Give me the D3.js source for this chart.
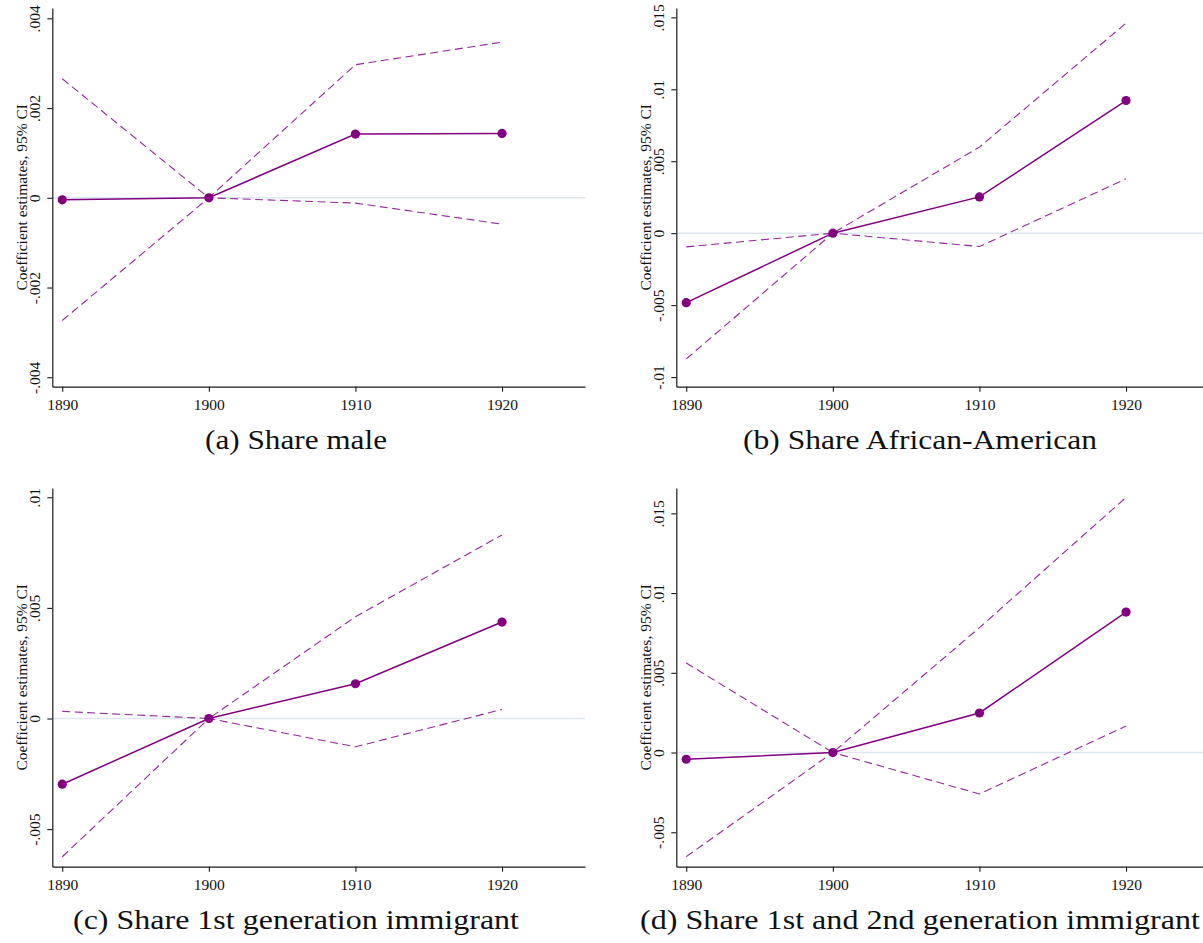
<!DOCTYPE html>
<html>
<head>
<meta charset="utf-8">
<script src="https://cdn.jsdelivr.net/npm/d3@7"></script>
<style>
  html, body { margin: 0; padding: 0; background: #ffffff; }
  svg { display: block; }
</style>
</head>
<body>
<svg id="chart" width="1203" height="943"></svg>
<script>
// ---------------- data ----------------
const years = [1890, 1900, 1910, 1920];
const xTickLabels = ["1890", "1900", "1910", "1920"];
const xDomain = [1889.32, 1925.66];
const yAxisTitle = "Coefficient estimates, 95% CI";
const captions = [
  "(a) Share male",
  "(b) Share African-American",
  "(c) Share 1st generation immigrant",
  "(d) Share 1st and 2nd generation immigrant"
];

// (a) Share male
const maleCoef  = [-0.000045, 0, 0.00142, 0.001434];
const maleUpper = [0.002653, 0, 0.002966, 0.00347];
const maleLower = [-0.002735, 0, -0.000118, -0.000587];
const maleYDomain = [-0.00421, 0.00423];
const maleYTicks = [-0.004, -0.002, 0, 0.002, 0.004];
const maleYLabels = ["-.004", "-.002", "0", ".002", ".004"];

// (b) Share African-American
const blackCoef  = [-0.00483, 0, 0.00252, 0.00922];
const blackUpper = [-0.00095, 0, 0.00598, 0.0146];
const blackLower = [-0.00874, 0, -0.00093, 0.00378];
const blackYDomain = [-0.01067, 0.01565];
const blackYTicks = [-0.01, -0.005, 0, 0.005, 0.01, 0.015];
const blackYLabels = ["-.01", "-.005", "0", ".005", ".01", ".015"];

// (c) Share 1st generation immigrant
const imm1Coef  = [-0.00297, 0, 0.00157, 0.00436];
const imm1Upper = [0.00032, 0, 0.0046, 0.0083];
const imm1Lower = [-0.00625, 0, -0.00128, 0.00041];
const imm1YDomain = [-0.0067, 0.01042];
const imm1YTicks = [-0.005, 0, 0.005, 0.01];
const imm1YLabels = ["-.005", "0", ".005", ".01"];

// (d) Share 1st and 2nd generation immigrant
const imm12Coef  = [-0.00042, 0, 0.00248, 0.00881];
const imm12Upper = [0.00561, 0, 0.00783, 0.0160];
const imm12Lower = [-0.00653, 0, -0.0026, 0.00166];
const imm12YDomain = [-0.00716, 0.01659];
const imm12YTicks = [-0.005, 0, 0.005, 0.01, 0.015];
const imm12YLabels = ["-.005", "0", ".005", ".01", ".015"];

// ---------------- layout / style ----------------
const panels = [
  { ox: 0,   oy: 0,   coef: maleCoef,  upper: maleUpper,  lower: maleLower,  yDomain: maleYDomain,  yTicks: maleYTicks,  yLabels: maleYLabels,  caption: captions[0], capX: 296, capW: 182 },
  { ox: 624, oy: 0,   coef: blackCoef, upper: blackUpper, lower: blackLower, yDomain: blackYDomain, yTicks: blackYTicks, yLabels: blackYLabels, caption: captions[1], capX: 920, capW: 354 },
  { ox: 0,   oy: 480, coef: imm1Coef,  upper: imm1Upper,  lower: imm1Lower,  yDomain: imm1YDomain,  yTicks: imm1YTicks,  yLabels: imm1YLabels,  caption: captions[2], capX: 296, capW: 446 },
  { ox: 624, oy: 480, coef: imm12Coef, upper: imm12Upper, lower: imm12Lower, yDomain: imm12YDomain, yTicks: imm12YTicks, yLabels: imm12YLabels, caption: captions[3], capX: 920, capW: 560 }
];

const PL = 52.3, PR = 585, PT = 8, PB = 386.7;
const mainColor = "#800080";
const ciColor = "#93279a";
const refColor = "#dfe8f1";
const axisColor = "#1a1a1a";
const tickFont = "'Liberation Serif', 'Times New Roman', serif";
const capFont = "'Liberation Serif', 'Times New Roman', serif";

const svg = d3.select("#chart");
svg.append("rect").attr("width", 1203).attr("height", 943).attr("fill", "#fff");

panels.forEach(p => {
  const g = svg.append("g");
  const x = d3.scaleLinear().domain(xDomain).range([PL + p.ox, PR + p.ox]);
  const y = d3.scaleLinear().domain(p.yDomain).range([PB + p.oy, PT + p.oy]);

  // zero reference line
  g.append("line")
    .attr("x1", x.range()[0]).attr("x2", x.range()[1])
    .attr("y1", y(0)).attr("y2", y(0))
    .attr("stroke", refColor).attr("stroke-width", 1.6);

  const line = d3.line().x((d, i) => x(years[i])).y(d => y(d));

  // CI lines
  [p.upper, p.lower].forEach(s => {
    g.append("path").datum(s)
      .attr("d", line)
      .attr("fill", "none")
      .attr("stroke", ciColor)
      .attr("stroke-width", 1.1)
      .attr("stroke-dasharray", "8,4.5");
  });

  // coefficient line
  g.append("path").datum(p.coef)
    .attr("d", line)
    .attr("fill", "none")
    .attr("stroke", mainColor)
    .attr("stroke-width", 1.5);

  g.selectAll("circle.pt").data(p.coef).enter().append("circle")
    .attr("class", "pt")
    .attr("cx", (d, i) => x(years[i]))
    .attr("cy", d => y(d))
    .attr("r", 4.6)
    .attr("fill", mainColor);

  // y axis
  const yAxis = d3.axisLeft(y)
    .tickValues(p.yTicks)
    .tickFormat((d, i) => p.yLabels[i])
    .tickSize(5).tickSizeOuter(0);
  const ya = g.append("g").attr("transform", `translate(${x.range()[0]},0)`).call(yAxis);
  ya.select(".domain").attr("stroke", axisColor).attr("stroke-width", 1.2);
  ya.selectAll(".tick line").attr("stroke", axisColor).attr("stroke-width", 1.1);
  ya.selectAll(".tick text")
    .attr("transform", "rotate(-90)")
    .attr("x", 0).attr("y", -12).attr("dy", 0)
    .attr("text-anchor", "middle")
    .attr("fill", "#111")
    .style("font-family", tickFont).style("font-size", "15.5px");

  // x axis
  const xAxis = d3.axisBottom(x)
    .tickValues(years)
    .tickFormat((d, i) => xTickLabels[i])
    .tickSize(5).tickSizeOuter(0);
  const xa = g.append("g").attr("transform", `translate(0,${y.range()[0]})`).call(xAxis);
  xa.select(".domain").attr("stroke", axisColor).attr("stroke-width", 1.2);
  xa.selectAll(".tick line").attr("stroke", axisColor).attr("stroke-width", 1.1);
  xa.selectAll(".tick text")
    .attr("y", 23).attr("dy", 0)
    .attr("fill", "#111")
    .style("font-family", tickFont).style("font-size", "15.5px");

  // y axis title
  g.append("text")
    .attr("transform", `translate(${p.ox + 26.5},${(PT + PB) / 2 + p.oy}) rotate(-90)`)
    .attr("text-anchor", "middle")
    .attr("fill", "#111")
    .style("font-family", tickFont).style("font-size", "15.5px")
    .text(yAxisTitle);

  // caption
  g.append("text")
    .attr("x", p.capX - p.capW / 2)
    .attr("y", 449 + p.oy)
    .attr("textLength", p.capW)
    .attr("lengthAdjust", "spacingAndGlyphs")
    .attr("fill", "#111")
    .style("font-family", capFont).style("font-size", "28px")
    .text(p.caption);
});
</script>
</body>
</html>
